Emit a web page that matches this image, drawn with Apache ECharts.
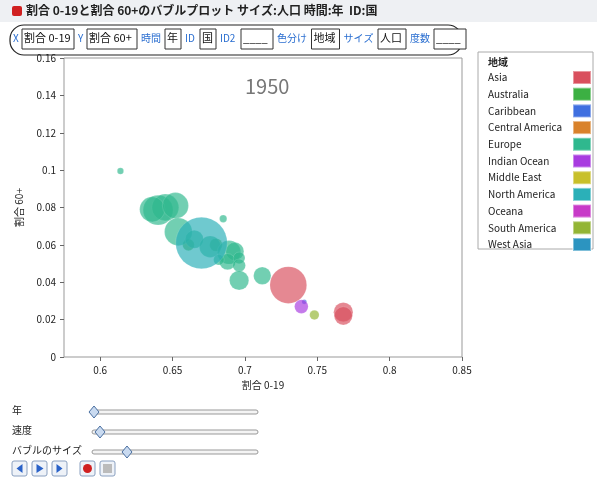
<!DOCTYPE html>
<html><head><meta charset="utf-8">
<script src="https://cdn.jsdelivr.net/npm/echarts@6/dist/echarts.min.js"></script>
<style>body{margin:0;background:#fff}#main{width:597px;height:479px}</style>
</head><body><div id="main"></div>
<script>
var regions = ['Asia', 'Australia', 'Caribbean', 'Central America', 'Europe', 'Indian Ocean',
  'Middle East', 'North America', 'Oceana', 'South America', 'West Asia'];
var colors = ['#d9505e', '#3cb043', '#3f6fe0', '#d9822b', '#2fb88e', '#a83be0',
  '#c8c02a', '#2bb0b8', '#c83ac8', '#93b534', '#2c94c0'];

// bubbles: share 0-19, share 60+, population, region index
var share019 = [0.614, 0.640, 0.645, 0.636, 0.652, 0.654, 0.670, 0.685, 0.665, 0.676, 0.661,
  0.689, 0.693, 0.688, 0.696, 0.696, 0.696, 0.712, 0.730, 0.739, 0.741, 0.748, 0.768, 0.768, 0.680, 0.682];
var share60 = [0.0995, 0.0786, 0.0800, 0.0790, 0.0810, 0.0670, 0.0610, 0.0740, 0.0630, 0.0590, 0.0600,
  0.0560, 0.0565, 0.0510, 0.0530, 0.0490, 0.0410, 0.0435, 0.0385, 0.0270, 0.0295, 0.0225, 0.0240, 0.0220, 0.0600, 0.0520];
var population = [3, 190, 150, 130, 140, 160, 620, 5, 60, 90, 20,
  110, 60, 45, 20, 25, 70, 55, 300, 30, 1, 11, 70, 60, 25, 15];
var regionOf = [4, 4, 4, 4, 4, 4, 7, 4, 4, 4, 1,
  4, 4, 4, 4, 4, 4, 4, 0, 5, 2, 9, 0, 0, 1, 4];

var yTicks = [0, 0.02, 0.04, 0.06, 0.08, 0.1, 0.12, 0.14, 0.16];
var xTicks = [0.6, 0.65, 0.7, 0.75, 0.8, 0.85];

var chart = echarts.init(document.getElementById('main'));
var series = regions.map(function (r, k) {
  var pts = [];
  for (var i = 0; i < share019.length; i++) {
    if (regionOf[i] === k) pts.push([share019[i], share60[i], population[i]]);
  }
  return {
    name: r, type: 'scatter', data: pts,
    symbolSize: function (v) { return Math.sqrt(v[2]) * 1.95 + 3; },
    itemStyle: { color: colors[k], opacity: 0.68, borderColor: 'rgba(255,255,255,0.4)', borderWidth: 0.5 }
  };
});

var font = '"Noto Sans CJK JP", "Noto Sans", sans-serif';
var gfx = [
  { type: 'rect', shape: { x: 0, y: 0, width: 597, height: 22 }, style: { fill: '#eef0f3' } },
  { type: 'rect', shape: { x: 12, y: 6, width: 10, height: 10, r: 2 }, style: { fill: '#d02020' } },
  { type: 'text', left: 26, top: 4, style: { text: '割合 0-19と割合 60+のバブルプロット サイズ:人口 時間:年  ID:国', font: 'bold 12px ' + font, fill: '#222' } },
  { type: 'rect', shape: { x: 10, y: 25, width: 452, height: 30, r: 14 }, style: { fill: 'none', stroke: '#222', lineWidth: 1.2 } },
  { type: 'text', left: 245, top: 76, style: { text: '1950', font: '20px ' + font, fill: '#777' } }
];
var roles = [['X', '割合 0-19', 52], ['Y', '割合 60+', 50], ['時間', '年', 16], ['ID', '国', 16], ['ID2', '____', 32],
  ['色分け', '地域', 28], ['サイズ', '人口', 28], ['度数', '____', 32]];
var rx = 13;
roles.forEach(function (p) {
  var lwid = p[0].length * (/[A-Z0-9]/.test(p[0]) ? 6 : 10.5) + 3;
  gfx.push({ type: 'text', left: rx, top: 33, style: { text: p[0], font: '10px ' + font, fill: '#2a6ed0', textDecoration: 'underline' } });
  rx += lwid;
  var bw = p[2];
  gfx.push({ type: 'rect', shape: { x: rx, y: 29, width: bw, height: 20 }, style: { fill: '#fff', stroke: '#333' } });
  gfx.push({ type: 'text', left: rx + 2, top: 32, style: { text: p[1], font: '11px ' + font, fill: '#111' } });
  rx += bw + 4;
});
// legend box
gfx.push({ type: 'rect', shape: { x: 478, y: 52, width: 115, height: 197 }, style: { fill: '#fff', stroke: '#aaa' } });
gfx.push({ type: 'text', left: 488, top: 57, style: { text: '地域', font: 'bold 10px ' + font, fill: '#222' } });
// sliders
var sliders = [['年', 94], ['速度', 100], ['バブルのサイズ', 127]];
sliders.forEach(function (s, i) {
  var y = 412 + i * 20;
  gfx.push({ type: 'text', left: 12, top: y - 7, style: { text: s[0], font: '10px ' + font, fill: '#222' } });
  gfx.push({ type: 'rect', shape: { x: 92, y: y - 2, width: 166, height: 4, r: 2 }, style: { fill: '#f4f4f4', stroke: '#999' } });
  gfx.push({ type: 'polygon', shape: { points: [[s[1], y - 6], [s[1] + 5, y], [s[1], y + 6], [s[1] - 5, y]] }, style: { fill: '#c9daf0', stroke: '#4a6fa0' } });
});
var btns = [12, 32, 52, 80, 100];
btns.forEach(function (bx, i) {
  gfx.push({ type: 'rect', shape: { x: bx, y: 461, width: 15, height: 15, r: 2 }, style: { fill: '#eef2f8', stroke: '#8aa0c0' } });
  if (i < 3) {
    var c = bx + 7.5;
    var pts = i === 1 ? [[c - 3, 464], [c + 4, 468.5], [c - 3, 473]] : (i === 0 ? [[c + 3, 464], [c - 3, 468.5], [c + 3, 473]] : [[c - 3, 464], [c + 3, 468.5], [c - 3, 473]]);
    gfx.push({ type: 'polygon', shape: { points: pts }, style: { fill: '#2a62c8' } });
  } else if (i === 3) {
    gfx.push({ type: 'circle', shape: { cx: bx + 7.5, cy: 468.5, r: 4.5 }, style: { fill: '#d02020' } });
  } else {
    gfx.push({ type: 'rect', shape: { x: bx + 3, y: 464, width: 9, height: 9 }, style: { fill: '#bbb' } });
  }
});

var option = {
  animation: false,
  textStyle: { fontFamily: font },
  grid: { left: 64, right: 135, top: 58, bottom: 122, show: true, borderColor: '#999', borderWidth: 1 },
  xAxis: {
    type: 'value', min: 0.575, max: 0.85, splitLine: { show: false },
    name: '割合 0-19', nameLocation: 'middle', nameGap: 22, nameTextStyle: { fontSize: 10, color: '#222' },
    axisLine: { show: false },
    axisTick: { show: true, length: 4, customValues: xTicks, lineStyle: { color: '#666' } },
    axisLabel: { customValues: xTicks, fontSize: 10, color: '#222', margin: 8 }
  },
  yAxis: {
    type: 'value', min: 0, max: 0.16, interval: 0.02, splitLine: { show: false },
    name: '割合 60+', nameLocation: 'middle', nameGap: 40, nameTextStyle: { fontSize: 10, color: '#222' },
    axisLine: { show: false },
    axisTick: { show: true, length: 4, lineStyle: { color: '#666' } },
    axisLabel: { fontSize: 10, color: '#222', formatter: function (v) { return String(+v.toFixed(2)); } }
  },
  legend: {
    orient: 'vertical', left: 488, top: 70, itemGap: 1.7, itemWidth: 18, itemHeight: 13, padding: 0,
    icon: 'rect', align: 'right', data: regions,
    itemStyle: { opacity: 1 },
    formatter: '{a|{name}}',
    textStyle: { fontSize: 10, color: '#222', rich: { a: { width: 80, align: 'left', lineHeight: 12, fontSize: 10 } } },
    selectedMode: false
  },
  graphic: gfx,
  series: series
};
chart.setOption(option);
</script></body></html>
